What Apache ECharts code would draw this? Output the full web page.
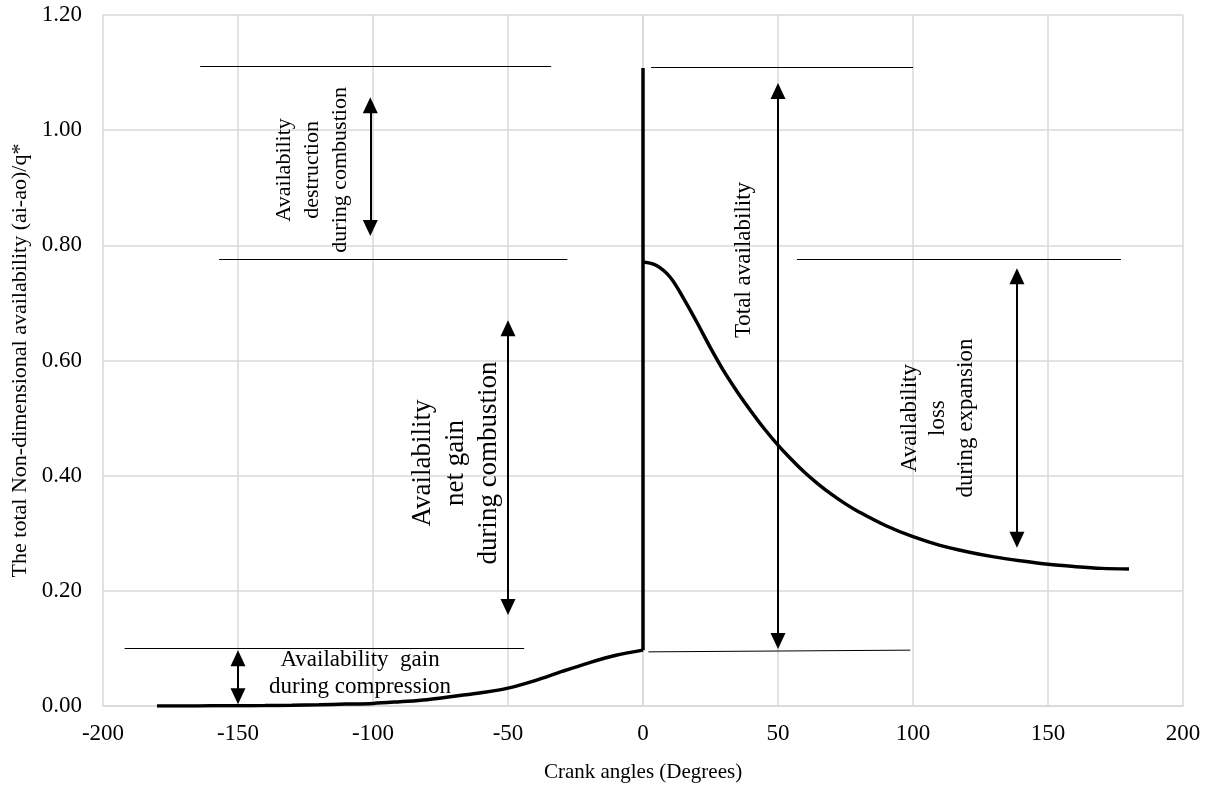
<!DOCTYPE html>
<html>
<head>
<meta charset="utf-8">
<script src="https://cdn.jsdelivr.net/npm/echarts@6/dist/echarts.min.js"></script>
<style>
  html, body { margin: 0; padding: 0; background: #fff; }
  #chart { width: 1211px; height: 788px; }
</style>
</head>
<body>
<div id="chart"></div>
<script>
// curve before ignition (compression)
const compAngles = [-180, -170, -160, -150, -140, -130, -120, -110, -100, -90, -80, -70, -60, -50, -40, -30, -20, -10, 0];
const compValues = [0.000, 0.000, 0.0003, 0.0005, 0.0008, 0.0013, 0.0022, 0.0033, 0.0045, 0.0075, 0.011, 0.017, 0.023, 0.031, 0.044, 0.060, 0.075, 0.088, 0.097];
// jump at 0 deg
const spikeAngles = [0, 0, 0];
const spikeValues = [0.097, 1.108, 0.771];
// expansion
const expAngles = [0, 5, 10, 15, 20, 25, 30, 35, 40, 45, 50, 55, 60, 65, 70, 75, 80, 90, 100, 110, 120, 130, 140, 150, 160, 170, 180];
const expValues = [0.771, 0.765, 0.745, 0.708, 0.666, 0.622, 0.581, 0.545, 0.512, 0.481, 0.453, 0.428, 0.405, 0.385, 0.367, 0.351, 0.337, 0.313, 0.294, 0.279, 0.268, 0.259, 0.252, 0.246, 0.242, 0.239, 0.238];

// thin reference lines [x1, y1, x2, y2]
const refLines = [
  [-164, 1.111, -34, 1.111],
  [-157, 0.776, -28, 0.776],
  [-192, 0.100, -44, 0.100],
  [3, 1.110, 100, 1.110],
  [2, 0.094, 99, 0.097],
  [57, 0.776, 177, 0.776]
];
// double arrows [x, top tip, bottom tip]
const arrows = [
  [-150, 0.097, 0.003],
  [-101, 1.057, 0.816],
  [-50, 0.670, 0.158],
  [50, 1.082, 0.099],
  [138.5, 0.760, 0.275]
];

const noteTexts = [
  'Availability\ndestruction\nduring combustion',
  'Availability\nnet gain\nduring combustion',
  'Availability  gain\nduring compression',
  'Total availability',
  'Availability\nloss\nduring expansion'
];
const noteX = [-122.6, -69.3, -104.8, 37.4, 109.3];
const noteY = [0.931, 0.422, 0.056, 0.7745, 0.500];

const xTicks = { min: -200, max: 200, step: 50 };
const yTicks = { min: 0, max: 1.2, step: 0.2 };

const FONT = '"Liberation Serif", "Times New Roman", serif';
const GRID = '#d9d9d9';
const pxPerY = 691 / 1.2;
const half = 8 / pxPerY; // arrow head centre offset

const noteStyle = [
  { size: 22, lh: 28, rotate: 90 },
  { size: 27, lh: 33, rotate: 90 },
  { size: 23, lh: 27, rotate: 0 },
  { size: 23, lh: 28, rotate: 90 },
  { size: 23, lh: 28, rotate: 90 }
];

const zip = (xs, ys) => xs.map((x, i) => [x, ys[i]]);

const chart = echarts.init(document.getElementById('chart'), null, { renderer: 'canvas' });

const curveStyle = { color: '#000', width: 3.5 };

chart.setOption({
  animation: false,
  backgroundColor: '#fff',
  grid: { left: 103, right: 28, top: 15, bottom: 82, containLabel: false },
  xAxis: {
    type: 'value',
    min: xTicks.min, max: xTicks.max, interval: xTicks.step,
    name: 'Crank angles (Degrees)',
    nameLocation: 'middle',
    nameGap: 56,
    nameTextStyle: { fontFamily: FONT, fontSize: 21, color: '#000' },
    axisLine: { show: true, lineStyle: { color: GRID, width: 1.5 } },
    axisTick: { show: false },
    axisLabel: { fontFamily: FONT, fontSize: 23, color: '#000', margin: 16 },
    splitLine: { show: true, lineStyle: { color: GRID, width: 1.5 } }
  },
  yAxis: {
    type: 'value',
    min: yTicks.min, max: yTicks.max, interval: yTicks.step,
    name: 'The total Non-dimensional availability (ai-ao)/q*',
    nameLocation: 'middle',
    nameGap: 70,
    nameTextStyle: { fontFamily: FONT, fontSize: 22, color: '#000' },
    axisLine: { show: true, lineStyle: { color: GRID, width: 1.5 } },
    axisTick: { show: false },
    axisLabel: { fontFamily: FONT, fontSize: 23, color: '#000', margin: 21, formatter: v => v.toFixed(2) },
    splitLine: { show: true, lineStyle: { color: GRID, width: 1.5 } }
  },
  series: [
    {
      type: 'line', name: 'compression', data: zip(compAngles, compValues),
      smooth: 0.35, showSymbol: false, symbol: 'none',
      lineStyle: curveStyle, silent: true, z: 5
    },
    {
      type: 'line', name: 'spike', data: zip(spikeAngles, spikeValues),
      smooth: false, showSymbol: false, symbol: 'none',
      lineStyle: curveStyle, silent: true, z: 5
    },
    {
      type: 'line', name: 'expansion', data: zip(expAngles, expValues),
      smooth: 0.35, showSymbol: false, symbol: 'none',
      lineStyle: curveStyle, silent: true, z: 5
    },
    {
      type: 'line', name: 'refs', data: [], silent: true,
      markLine: {
        silent: true, symbol: 'none', animation: false,
        label: { show: false },
        lineStyle: { color: '#000', width: 1, type: 'solid' },
        emphasis: { disabled: true },
        data: refLines.map(r => [{ coord: [r[0], r[1]] }, { coord: [r[2], r[3]] }])
      }
    },
    {
      type: 'line', name: 'arrows', data: [], silent: true,
      markLine: {
        silent: true, symbol: ['triangle', 'triangle'], symbolSize: [15, 16], animation: false,
        label: { show: false },
        lineStyle: { color: '#000', width: 2, type: 'solid' },
        itemStyle: { color: '#000' },
        emphasis: { disabled: true },
        data: arrows.map(a => [{ coord: [a[0], a[1] - half] }, { coord: [a[0], a[2] + half] }])
      }
    },
    {
      type: 'scatter', name: 'notes', symbolSize: 0, silent: true, z: 6,
      data: noteTexts.map((t, i) => ({
        value: [noteX[i], noteY[i]],
        label: {
          show: true, position: 'inside', formatter: t,
          rotate: noteStyle[i].rotate, fontSize: noteStyle[i].size, lineHeight: noteStyle[i].lh,
          fontFamily: FONT, color: '#000', textBorderWidth: 0, opacity: 1,
          align: 'center', verticalAlign: 'middle'
        }
      }))
    }
  ]
});
</script>
</body>
</html>
